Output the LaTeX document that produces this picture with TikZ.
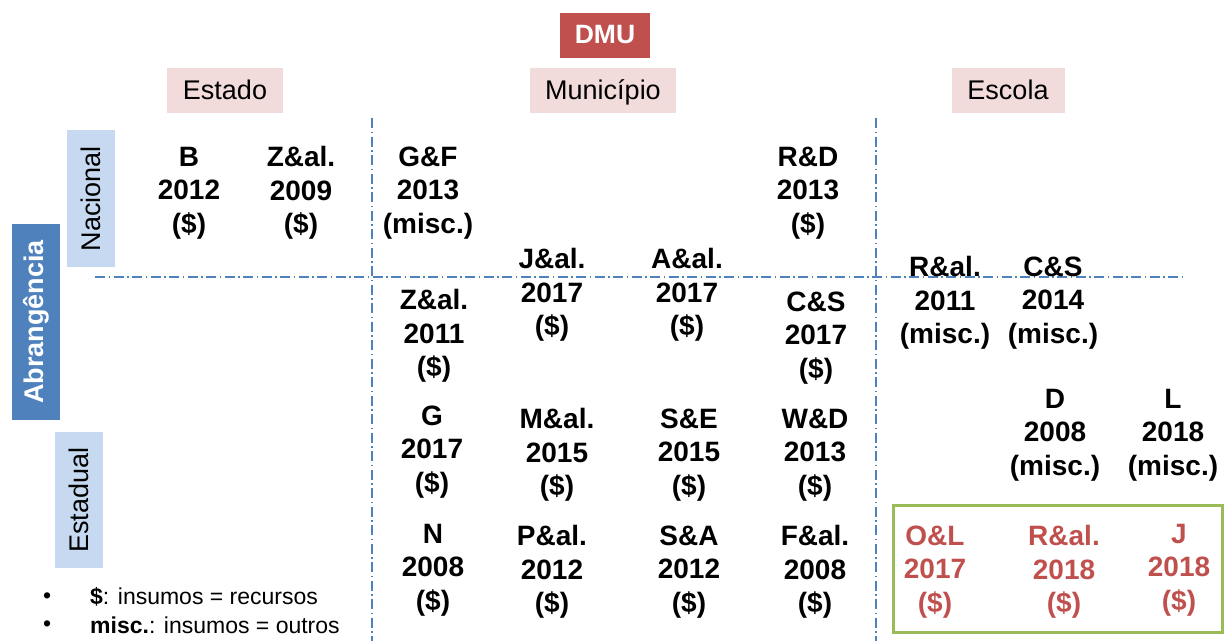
\documentclass[tikz,border=0pt]{standalone}
\usepackage{fontspec}
\setmainfont{Liberation Sans}
\definecolor{dmured}{HTML}{C0504D}
\definecolor{hdrpink}{HTML}{F2DCDB}
\definecolor{lblue}{HTML}{C6D9F1}
\definecolor{dblue}{HTML}{4F81BD}
\definecolor{lineblue}{HTML}{4F81BD}
\definecolor{boxgreen}{HTML}{9BBB59}
\begin{document}
\begin{tikzpicture}[x=1pt,y=-1pt,
  entry/.style={align=center,inner sep=0pt,font=\bfseries\fontsize{28}{33.5}\selectfont},
  redentry/.style={entry,text=dmured},
  hdr/.style={fill=hdrpink,minimum height=45pt,inner sep=0pt,text height=19pt,text depth=0pt,font=\fontsize{27}{30}\selectfont},
  axis/.style={lineblue,line width=1.3pt,dash pattern=on 10pt off 3.5pt on 1.5pt off 3.5pt},
  vlab/.style={fill=lblue,rotate=90,minimum height=48pt,inner sep=0pt,font=\fontsize{27}{30}\selectfont},
  legend/.style={anchor=west,inner sep=0pt,font=\fontsize{23}{26}\selectfont}]
\useasboundingbox (0,0) rectangle (1224,641);
% headers
\node[fill=dmured,text=white,minimum width=90pt,minimum height=45pt,inner sep=0pt,font=\bfseries\fontsize{26.5}{30}\selectfont] (dmu) at (605,35) {DMU};
\node[hdr,minimum width=116pt] (estado) at (225,90) {Estado};
\node[hdr,minimum width=146pt] (municipio) at (603,90) {Município};
\node[hdr,minimum width=113pt] (escola) at (1008,90) {Escola};
% axes
\coordinate (v1t) at (372,118); \coordinate (v1b) at (372,641);
\coordinate (v2t) at (876,118); \coordinate (v2b) at (876,641);
\coordinate (hl) at (95,277); \coordinate (hr) at (1185,277);
\draw[axis] (v1t) -- (v1b);
\draw[axis] (v2t) -- (v2b);
\draw[axis] (hl) -- (hr);
% side labels
\node[vlab,minimum width=137pt] (nacional) at (91,198.5) {Nacional};
\node[vlab,minimum width=136pt] (estadual) at (79,500) {Estadual};
\node[fill=dblue,text=white,rotate=90,minimum width=196pt,minimum height=48pt,inner sep=0pt,font=\bfseries\fontsize{27}{30}\selectfont] (abr) at (36,322) {Abrangência};
% entries
\node[entry] (b12) at (189,193) {B\\2012\\(\$)};
\node[entry] (z09) at (301,193) {Z\&al.\\2009\\(\$)};
\node[entry] (gf13) at (428,193) {G\&F\\2013\\(misc.)};
\node[entry] (rd13) at (808,193) {R\&D\\2013\\(\$)};
\node[entry] (j17) at (552,295) {J\&al.\\2017\\(\$)};
\node[entry] (a17) at (687,295) {A\&al.\\2017\\(\$)};
\node[entry] (z11) at (434,336) {Z\&al.\\2011\\(\$)};
\node[entry] (cs17) at (816,338) {C\&S\\2017\\(\$)};
\node[entry] (r11) at (945,303) {R\&al.\\2011\\(misc.)};
\node[entry] (cs14) at (1053,303) {C\&S\\2014\\(misc.)};
\node[entry] (d08) at (1055,435) {D\\2008\\(misc.)};
\node[entry] (l18) at (1173,435) {L\\2018\\(misc.)};
\node[entry] (g17) at (432,452) {G\\2017\\(\$)};
\node[entry] (m15) at (557,455) {M\&al.\\2015\\(\$)};
\node[entry] (se15) at (689,455) {S\&E\\2015\\(\$)};
\node[entry] (wd13) at (815,455) {W\&D\\2013\\(\$)};
\node[entry] (n08) at (433,570) {N\\2008\\(\$)};
\node[entry] (p12) at (552,572) {P\&al.\\2012\\(\$)};
\node[entry] (sa12) at (689,572) {S\&A\\2012\\(\$)};
\node[entry] (f08) at (815,572) {F\&al.\\2008\\(\$)};
\node[redentry] (ol17) at (935,572) {O\&L\\2017\\(\$)};
\node[redentry] (r18) at (1064,572) {R\&al.\\2018\\(\$)};
\node[redentry] (j18) at (1179,570) {J\\2018\\(\$)};
% green box
\draw[boxgreen,line width=3pt] (893,505) rectangle (1222,632);
% legend
\node[legend] (bul1) at (43,598) {•};
\node[legend] (bul2) at (43,626) {•};
\node[legend] (leg1) at (90,597) {\textbf{\$}: insumos = recursos};
\node[legend] (leg2) at (90,625) {\textbf{misc.}: insumos = outros};
\end{tikzpicture}
\end{document}
